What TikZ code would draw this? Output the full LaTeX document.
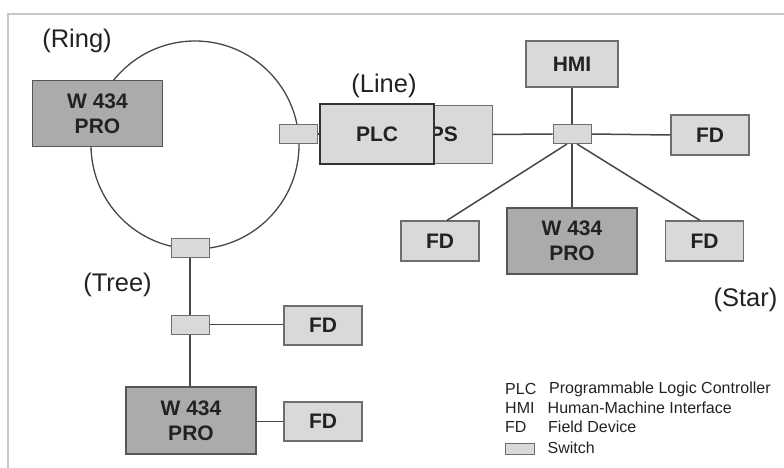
\documentclass[tikz,border=0pt]{standalone}
\usepackage{fontspec}
\setmainfont{Liberation Sans}
\definecolor{lightfill}{HTML}{D9D9D9}
\definecolor{darkfill}{HTML}{ABABAB}
\definecolor{boxborder}{HTML}{6E6E6E}
\definecolor{darkborder}{HTML}{555555}
\definecolor{linecol}{HTML}{474747}
\definecolor{textcol}{HTML}{222222}
\definecolor{framecol}{HTML}{C8C8C8}
\begin{document}
\begin{tikzpicture}[x=1pt,y=-1pt,
  boxtext/.style={font=\fontsize{21}{25}\selectfont\bfseries, text=textcol, align=center, inner sep=0pt},
  lightbox/.style={boxtext, draw=boxborder, fill=lightfill, line width=1.2pt, minimum width=78pt, minimum height=40pt},
  darkbox/.style={boxtext, draw=darkborder, fill=darkfill, line width=1.2pt, minimum width=130pt, minimum height=66pt},
  switchbox/.style={draw=boxborder, fill=lightfill, line width=1pt, minimum width=38pt, minimum height=19pt, inner sep=0pt},
  conn/.style={draw=linecol, line width=1.5pt},
  topolabel/.style={font=\fontsize{25.5}{28}\selectfont, text=textcol, inner sep=0pt},
  legendtext/.style={font=\fontsize{16}{18}\selectfont, text=textcol, inner sep=0pt, anchor=west}
]
\useasboundingbox (0,0) rectangle (784,468);
% frame
\draw[framecol, line width=1.5pt] (8,468) -- (8,14) -- (784,14);

% ring
\node[circle, draw=linecol, line width=1.3pt, minimum size=208pt, inner sep=0pt] (ring) at (195,145) {};
\node[darkbox] (wring) at (97.5,113.5) {W 434\\PRO};
\node[switchbox] (swR) at (298,134) {};
\node[switchbox] (swB) at (190,247.5) {};

% line
\node[draw=boxborder, fill=lightfill, line width=1pt, minimum width=114pt, minimum height=57pt, inner sep=0pt] (ps) at (435,134.5) {};
\node[boxtext, anchor=base east] (pstext) at (458,142) {PS};
\node[boxtext, draw=black!80, fill=lightfill, line width=1.2pt, minimum width=114pt, minimum height=60pt] (plc) at (377,134) {PLC};
\draw[conn] (swR.east) -- (plc.west);
\node[topolabel] (linelbl) at (384,86) {(Line)};

% star
\node[switchbox] (swS) at (572,134) {};
\node[lightbox, minimum width=92pt, minimum height=46pt] (hmi) at (572,64) {HMI};
\node[lightbox] (fdR) at (710,135) {FD};
\node[lightbox] (fdL) at (440,241) {FD};
\node[lightbox] (fdBR) at (704.5,241) {FD};
\node[darkbox] (wstar) at (572,241) {W 434\\PRO};
\draw[conn] (ps.east) -- (swS.west);
\draw[conn] (swS.east) -- (fdR.west);
\draw[conn] (swS.north) -- (hmi.south);
\draw[conn] (swS.south) -- (wstar.north);
\draw[conn] ([xshift=-5pt]swS.south) -- ([xshift=7pt]fdL.north);
\draw[conn] ([xshift=5pt]swS.south) -- ([xshift=-4.5pt]fdBR.north);

% tree
\node[switchbox] (swT) at (190,324.5) {};
\node[lightbox, minimum height=39pt] (fdT1) at (323,325.5) {FD};
\node[lightbox, minimum height=39pt] (fdT2) at (323,421.5) {FD};
\node[darkbox, minimum height=67pt] (wtree) at (191,420.5) {W 434\\PRO};
\draw[conn] (swB.south) -- (swT.north);
\draw[conn] (swT.south) -- (swT.south |- wtree.north);
\draw[conn] (swT.east) -- (fdT1.west |- swT.east);
\draw[conn] (wtree.east |- fdT2.west) -- (fdT2.west);

% labels
\node[topolabel] (ringlbl) at (77,41) {(Ring)};
\node[topolabel] (treelbl) at (117.5,284.5) {(Tree)};
\node[topolabel] (starlbl) at (745.5,300) {(Star)};

% legend
\node[legendtext] (l1a) at (505,389) {PLC};
\node[legendtext] (l1b) at (549,389) {Programmable Logic Controller};
\node[legendtext] (l2a) at (505,408) {HMI};
\node[legendtext] (l2b) at (547.5,408) {Human-Machine Interface};
\node[legendtext] (l3a) at (505,427) {FD};
\node[legendtext] (l3b) at (548,427) {Field Device};
\node[draw=boxborder, fill=lightfill, line width=1pt, minimum width=29pt, minimum height=11pt, inner sep=0pt] (lsw) at (519.5,448.5) {};
\node[legendtext] (l4b) at (547.5,448) {Switch};
\end{tikzpicture}
\end{document}
